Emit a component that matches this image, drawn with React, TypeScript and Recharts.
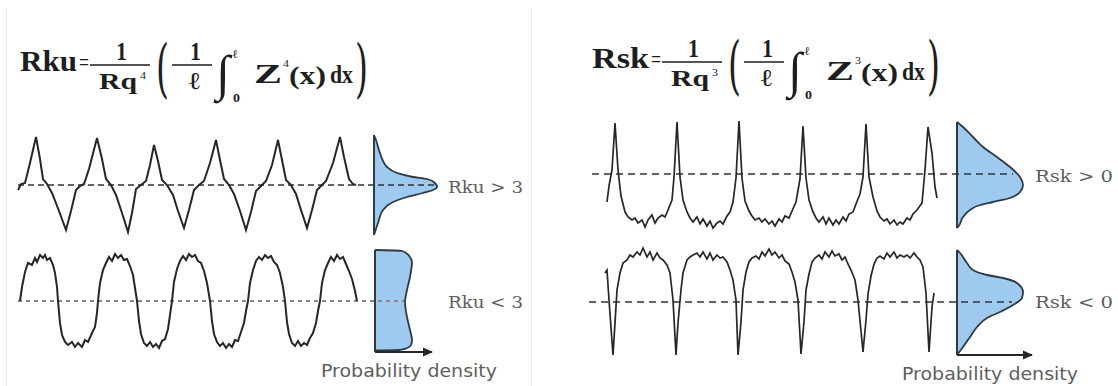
import { Area, ComposedChart, Line, LineChart, ReferenceDot, ReferenceLine, XAxis, YAxis } from 'recharts'

// signal profiles: [x position in px, height above the mean line]
const KU_HIGH: [number, number][] = [
  [18, -5], [21, 1], [25, 2], [30, 22], [36, 48], [40, 26], [43, 6], [47, 1], [52, -8], [59, -26], [66, -45],
  [71, -26], [76, -5], [80, -1], [84, 1], [89, 16], [97, 47], [102, 26], [106, 6], [111, 0], [116, -10], [122, -28],
  [128, -47], [132, -28], [136, -4], [141, 0], [146, 4], [150, 20], [154, 40], [158, 24], [162, 5], [167, 0],
  [173, -10], [178, -26], [184, -43], [189, -25], [194, -5], [199, 0], [204, 4], [210, 22], [216, 45], [220, 25],
  [224, 6], [229, 0], [234, -9], [240, -26], [246, -45], [251, -27], [256, -6], [261, -1], [266, 4], [272, 20],
  [278, 45], [282, 25], [286, 5], [291, 0], [296, -9], [301, -25], [307, -43], [312, -25], [317, -5], [321, -1],
  [326, 4], [333, 22], [340, 48], [344, 28], [349, 6], [353, 1], [356, 0],
]

const KU_LOW: [number, number][] = [
  [20, 0], [22, 14], [25, 29], [28, 38], [32, 36], [35, 43], [37, 39], [40, 46], [43, 43], [45, 46], [47, 41],
  [50, 43], [53, 36], [55, 28], [57, 14], [58, 0], [60, -22], [62, -34], [65, -41], [68, -44], [72, -41], [75, -46],
  [78, -42], [82, -46], [85, -39], [88, -41], [92, -32], [95, -26], [97, -12], [98, 0], [100, 18], [103, 31],
  [106, 38], [109, 44], [112, 40], [115, 47], [118, 43], [121, 46], [124, 41], [127, 42], [130, 35], [133, 26],
  [135, 13], [137, 0], [139, -20], [141, -33], [144, -42], [147, -45], [150, -41], [153, -46], [156, -43],
  [159, -47], [162, -40], [165, -38], [168, -28], [170, -14], [172, 0], [174, 19], [177, 32], [180, 40], [183, 45],
  [186, 41], [189, 47], [192, 44], [195, 46], [198, 40], [201, 38], [204, 30], [207, 18], [210, 0], [212, -20],
  [214, -33], [217, -41], [220, -45], [223, -42], [226, -47], [229, -43], [232, -46], [235, -39], [238, -40],
  [241, -31], [244, -22], [246, -10], [248, 0], [250, 18], [253, 31], [256, 40], [259, 44], [262, 41], [265, 46],
  [268, 43], [271, 45], [274, 39], [277, 36], [280, 28], [283, 14], [285, 0], [287, -21], [289, -33], [292, -42],
  [295, -45], [298, -40], [301, -45], [304, -42], [307, -44], [310, -37], [313, -32], [316, -22], [318, -10],
  [320, 0], [322, 18], [325, 31], [328, 38], [331, 44], [334, 40], [337, 46], [340, 42], [343, 44], [346, 37],
  [349, 30], [352, 22], [355, 10], [357, 0],
]

const SK_POS: [number, number][] = [
  [607, -28], [609, -12], [612, 4], [615, 51], [618, 4], [621, -22], [625, -38], [628, -43], [632, -46], [635, -44],
  [638, -49], [642, -46], [645, -53], [648, -46], [652, -41], [655, -49], [658, -44], [662, -41], [665, -43],
  [668, -36], [672, -26], [674, -3], [677, 52], [680, -3], [683, -26], [687, -38], [690, -44], [693, -48], [697, -43],
  [700, -50], [703, -45], [707, -52], [710, -47], [713, -54], [717, -49], [720, -47], [723, -50], [727, -42],
  [730, -38], [733, -28], [736, -4], [739, 53], [742, -4], [745, -27], [749, -37], [752, -42], [755, -46], [759, -44],
  [762, -48], [765, -45], [769, -50], [772, -47], [775, -52], [779, -45], [782, -48], [785, -42], [789, -44],
  [792, -37], [796, -28], [800, -5], [803, 48], [806, -4], [809, -26], [813, -38], [816, -44], [819, -48], [823, -43],
  [826, -50], [829, -44], [833, -51], [836, -46], [839, -50], [843, -43], [846, -47], [849, -40], [853, -38],
  [856, -30], [860, -20], [863, -3], [866, 50], [869, -3], [873, -23], [877, -37], [880, -43], [884, -47], [887, -45],
  [890, -50], [894, -46], [897, -51], [900, -48], [903, -50], [907, -44], [910, -46], [913, -40], [917, -36],
  [922, -29], [925, 4], [928, 47], [932, 21], [935, -13], [937, -24],
]

const SK_NEG: [number, number][] = [
  [605, 29], [607, 32], [609, 2], [613, -53], [615, -21], [617, 12], [620, 29], [623, 39], [627, 42], [630, 47],
  [633, 45], [637, 50], [640, 47], [643, 54], [647, 45], [650, 50], [653, 42], [657, 49], [660, 44], [663, 42],
  [667, 37], [670, 29], [673, 2], [676, -53], [678, -21], [681, 12], [683, 29], [687, 42], [690, 45], [693, 47],
  [697, 49], [700, 45], [703, 50], [707, 43], [710, 49], [713, 42], [717, 47], [720, 44], [723, 45], [727, 40],
  [730, 32], [733, 22], [736, 2], [738, -53], [741, -20], [743, 12], [746, 30], [749, 40], [752, 44], [756, 46],
  [759, 43], [762, 50], [765, 46], [769, 53], [772, 47], [775, 50], [779, 44], [782, 47], [785, 41], [789, 38],
  [792, 30], [795, 20], [798, 2], [801, -52], [804, -20], [806, 12], [809, 28], [812, 40], [815, 44], [819, 47],
  [822, 43], [825, 50], [829, 45], [832, 51], [835, 46], [839, 48], [842, 42], [845, 45], [848, 38], [851, 32],
  [855, 22], [858, 2], [863, -50], [866, -18], [868, 8], [871, 26], [874, 38], [877, 44], [880, 46], [884, 43],
  [887, 49], [890, 45], [894, 50], [897, 44], [900, 47], [904, 45], [907, 47], [910, 44], [914, 49], [917, 45],
  [920, 42], [923, 35], [926, 9], [929, -50], [932, -5], [934, 9],
]

// density curves: [height relative to mean line, density]
const DENS_KU_HIGH: [number, number][] = [
  [50, 0], [45, 2], [32, 6], [18, 13], [12, 23], [8, 39], [6, 53], [2, 61], [-2, 63], [-5, 59], [-8, 49], [-12, 33],
  [-17, 19], [-25, 9], [-38, 4], [-50, 0],
]
const DENS_KU_LOW: [number, number][] = [
  [51, 0], [50.5, 20], [50, 27], [48, 31], [44, 35], [38, 37], [30, 36], [24, 35], [11, 32], [-1, 30], [-16, 32],
  [-29, 35], [-39, 37], [-44, 36], [-47, 32], [-49, 24], [-49.5, 0],
]
const DENS_SK_POS: [number, number][] = [
  [52, 0], [47, 6], [37, 16], [27, 26], [17, 40], [7, 53], [-3, 63], [-11, 66], [-18, 63], [-24, 53], [-28, 36],
  [-31, 23], [-36, 13], [-43, 6], [-53, 1], [-54, 0],
]
const DENS_SK_NEG: [number, number][] = [
  [52, 0], [49, 3], [39, 10], [32, 16], [27, 30], [24, 46], [19, 60], [10, 66], [4, 65], [-3, 56], [-10, 43],
  [-16, 30], [-25, 20], [-35, 13], [-45, 6], [-53, 0],
]

const LABELS = ['Rku > 3', 'Rku < 3', 'Rsk > 0', 'Rsk < 0']
const AXIS_TITLE = 'Probability density'

const INK = '#262626'
const BLUE = '#9fcaef'
const EDGE = '#2e3a46'
const GREY = '#5e5e5e'
const M = { top: 0, right: 0, bottom: 0, left: 0 }

type SignalProps = {
  data: [number, number][]
  left: number
  top: number
  width: number
  height: number
  base: number
  mean: [number, number]
  dash: string
  meanColor: string
  meanWidth: number
  lineWidth: number
}

function Signal({ data, left, top, width, height, base, mean, dash, meanColor, meanWidth, lineWidth }: SignalProps) {
  const rows = data.map(([x, y]) => ({ x, y }))
  return (
    <div style={{ position: 'absolute', left, top }}>
      <LineChart width={width} height={height} data={rows} margin={M}>
        <XAxis type="number" dataKey="x" domain={[left, left + width]} allowDataOverflow hide />
        <YAxis type="number" domain={[base - (top + height), base - top]} allowDataOverflow hide />
        <ReferenceLine
          segment={[{ x: mean[0], y: 0 }, { x: mean[1], y: 0 }]}
          stroke={meanColor}
          strokeWidth={meanWidth}
          strokeDasharray={dash}
        />
        <Line dataKey="y" type="linear" stroke={INK} strokeWidth={lineWidth} dot={false} isAnimationActive={false} />
      </LineChart>
    </div>
  )
}

type DensityProps = {
  data: [number, number][]
  edge: number
  top: number
  width: number
  height: number
  base: number
  arrow?: [number, number]
}

function Density({ data, edge, top, width, height, base, arrow }: DensityProps) {
  const rows = data.map(([o, d]) => ({ o, d }))
  const hi = data[0][0]
  const lo = data[data.length - 1][0]
  return (
    <div style={{ position: 'absolute', left: edge - 3, top }}>
      <ComposedChart layout="vertical" width={width} height={height} data={rows} margin={M}>
        <XAxis type="number" domain={[-3, width - 3]} allowDataOverflow hide />
        <YAxis type="number" dataKey="o" domain={[base - (top + height), base - top]} allowDataOverflow reversed hide />
        <Area
          dataKey="d"
          type="monotone"
          fill={BLUE}
          fillOpacity={1}
          stroke={EDGE}
          strokeWidth={1.8}
          isAnimationActive={false}
        />
        <ReferenceLine
          segment={[{ x: 0, y: hi }, { x: 0, y: arrow ? arrow[1] : lo }]}
          stroke={EDGE}
          strokeWidth={2}
        />
        {arrow && (
          <ReferenceLine segment={[{ x: 0, y: arrow[1] }, { x: arrow[0], y: arrow[1] }]} stroke={INK} strokeWidth={2} />
        )}
        {arrow && (
          <ReferenceDot
            x={arrow[0]}
            y={arrow[1]}
            shape={(p: any) => (
              <path d={`M${p.cx - 9},${p.cy - 4.5}L${p.cx + 1},${p.cy}L${p.cx - 9},${p.cy + 4.5}Z`} fill={INK} />
            )}
          />
        )}
      </ComposedChart>
    </div>
  )
}

const SERIF = "'Liberation Serif', 'Times New Roman', serif"
const DSERIF = "'DejaVu Serif', serif"

function T({ x, y, s, w, children, bold = true, font = SERIF, italic = false }: any) {
  return (
    <text
      x={x}
      y={y}
      fontSize={s}
      fontFamily={font}
      fontWeight={bold ? 700 : 400}
      fontStyle={italic ? 'italic' : 'normal'}
      textLength={w}
      lengthAdjust={w ? 'spacingAndGlyphs' : undefined}
      fill="#1e1e1e"
    >
      {children}
    </text>
  )
}

function Formula({ dx, dy, name, power }: { dx: number; dy: number; name: string; power: string }) {
  return (
    <g transform={`translate(${dx},${dy})`}>
      <T x={20} y={71} s={29} w={57}>{name}</T>
      <T x={79} y={70} s={24} w={10} bold={false}>=</T>
      <T x={116} y={60} s={25} w={11}>1</T>
      <line x1={90} x2={150} y1={65} y2={65} stroke="#1e1e1e" strokeWidth={1.6} />
      <T x={99} y={89} s={24} w={38}>Rq</T>
      <T x={140} y={79} s={11} w={6} bold={false}>{power}</T>
      <T x={156} y={90} s={64} w={13} bold={false} font={DSERIF}>(</T>
      <T x={190} y={60} s={25} w={11}>1</T>
      <line x1={172} x2={212} y1={65} y2={65} stroke="#1e1e1e" strokeWidth={1.6} />
      <T x={187} y={89} s={24} w={14} font={DSERIF} bold={false}>ℓ</T>
      <T x={216} y={90} s={50}>∫</T>
      <T x={232} y={58} s={12} w={6} font={DSERIF} bold={false}>ℓ</T>
      <T x={233} y={102} s={12} w={7}>0</T>
      <T x={254} y={83} s={28} w={28}>Z</T>
      <T x={283} y={67} s={11} w={6} bold={false}>{power}</T>
      <T x={289} y={84} s={26} w={37}>(x)</T>
      <T x={330} y={83} s={26} w={23}>dx</T>
      <T x={355} y={90} s={64} w={13} bold={false} font={DSERIF}>)</T>
    </g>
  )
}

function Label({ x, y, w, children, sans = false }: any) {
  return (
    <text
      x={x}
      y={y}
      fontSize={sans ? 18 : 17}
      fontFamily={sans ? "'DejaVu Sans', sans-serif" : DSERIF}
      textLength={w}
      lengthAdjust="spacingAndGlyphs"
      fill={GREY}
    >
      {children}
    </text>
  )
}

export default function App() {
  return (
    <div style={{ position: 'absolute', left: 0, top: 0, width: 1118, height: 386, background: '#fff', overflow: 'hidden' }}>
      <svg width={1118} height={386} style={{ position: 'absolute', left: 0, top: 0 }}>
        <line x1={6.5} x2={6.5} y1={8} y2={386} stroke="#ececec" strokeWidth={1} />
        <line x1={531.5} x2={531.5} y1={8} y2={386} stroke="#ececec" strokeWidth={1} />
        <Formula dx={0} dy={0} name="Rku" power="4" />
        <Formula dx={572} dy={-3} name="Rsk" power="3" />
        <Label x={448} y={193} w={75}>{LABELS[0]}</Label>
        <Label x={448} y={308} w={75}>{LABELS[1]}</Label>
        <Label x={1035} y={182} w={78}>{LABELS[2]}</Label>
        <Label x={1035} y={308} w={78}>{LABELS[3]}</Label>
        <Label x={321} y={377} w={176} sans>{AXIS_TITLE}</Label>
        <Label x={902} y={380} w={176} sans>{AXIS_TITLE}</Label>
      </svg>

      <Density data={DENS_KU_HIGH} edge={374} top={130} width={72} height={110} base={185} />
      <Density data={DENS_KU_LOW} edge={375} top={244} width={66} height={114} base={301} arrow={[57, -51]} />
      <Density data={DENS_SK_POS} edge={957} top={116} width={76} height={116} base={174} />
      <Density data={DENS_SK_NEG} edge={957} top={244} width={84} height={116} base={302} arrow={[75, -53]} />

      <Signal data={KU_HIGH} left={10} top={128} width={435} height={112} base={185} mean={[18, 435]} dash="6 4" meanColor="#333" meanWidth={1.6} lineWidth={2} />
      <Signal data={KU_LOW} left={10} top={244} width={400} height={110} base={301} mean={[18, 404]} dash="4 4" meanColor="#8a8a8a" meanWidth={2} lineWidth={2} />
      <Signal data={SK_POS} left={585} top={116} width={435} height={116} base={174} mean={[592, 1013]} dash="7 5" meanColor="#333" meanWidth={1.6} lineWidth={1.7} />
      <Signal data={SK_NEG} left={585} top={244} width={435} height={116} base={302} mean={[589, 1012]} dash="7 5" meanColor="#333" meanWidth={1.6} lineWidth={1.7} />
    </div>
  )
}
